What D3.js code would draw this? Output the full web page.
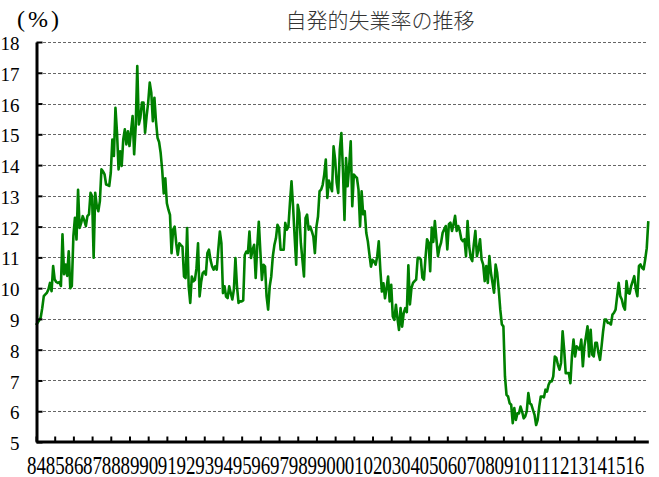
<!DOCTYPE html>
<html><head><meta charset="utf-8">
<script src="https://cdn.jsdelivr.net/npm/d3@7"></script>
<style>html,body{margin:0;padding:0;background:#fff;} svg{display:block;}</style>
</head><body>
<svg id="chart" width="659" height="477"></svg>
<script>
const chartTitle = "自発的失業率の推移";
const unitLabel = "(%)";
const yTicks = [5,6,7,8,9,10,11,12,13,14,15,16,17,18];
const xTickLabels = ["84","85","86","87","88","89","90","91","92","93","94","95","96","97","98","99","00","01","02","03","04","05","06","07","08","09","10","11","12","13","14","15","16"];

// monthly rates (%), Jan 1984 - Oct 2016
const r1984 = [8.8, 8.87, 8.95, 9.04, 9.35, 9.74, 9.8, 9.85, 9.96, 10.17, 9.9, 10.72];
const r1985 = [10.28, 10.2, 10.17, 10.2, 10.07, 11.75, 10.45, 10.77, 10.4, 11.2, 10.0, 10.07];
const r1986 = [11.7, 12.29, 11.58, 13.2, 11.96, 12.12, 12.34, 12.2, 12.02, 12.34, 12.4, 13.1];
const r1987 = [12.99, 10.99, 13.1, 12.67, 12.5, 12.83, 13.86, 13.8, 13.7, 13.37, 13.35, 13.32];
const r1988 = [13.75, 14.83, 14.3, 15.86, 15.05, 13.86, 14.45, 13.97, 14.83, 15.16, 14.67, 15.1];
const r1989 = [14.62, 15.1, 15.59, 14.35, 15.27, 17.22, 15.32, 15.54, 16.03, 16.03, 15.05, 15.59];
const r1990 = [16.03, 16.68, 16.35, 15.43, 16.19, 15.43, 14.89, 14.75, 14.4, 13.84, 13.08, 13.57];
const r1991 = [12.76, 12.55, 12.38, 11.14, 11.9, 12.0, 11.46, 11.08, 11.46, 11.4, 11.35, 10.38];
const r1992 = [10.33, 11.95, 10.06, 9.52, 10.38, 10.22, 10.27, 10.65, 11.46, 9.73, 10.2, 10.49];
const r1993 = [10.54, 10.44, 11.14, 11.25, 10.92, 10.71, 10.6, 10.71, 10.6, 11.25, 11.84, 11.46];
const r1994 = [9.84, 10.06, 9.73, 9.68, 10.06, 9.84, 9.63, 9.95, 10.98, 10.06, 9.52, 9.57];
const r1995 = [9.57, 9.6, 11.08, 11.19, 11.14, 11.84, 10.98, 11.25, 11.41, 10.33, 11.35, 12.16];
const r1996 = [11.19, 10.27, 10.76, 10.71, 9.73, 9.3, 10.06, 10.38, 11.03, 11.4, 11.62, 12.06];
const r1997 = [11.95, 11.25, 11.25, 11.25, 12.12, 11.9, 12.0, 12.77, 13.47, 12.66, 11.68, 10.76];
const r1998 = [12.71, 12.44, 11.46, 10.92, 10.38, 12.28, 12.39, 11.9, 12.0, 11.85, 11.68, 11.14];
const r1999 = [12.0, 12.33, 13.15, 13.2, 13.36, 13.69, 14.18, 12.93, 13.5, 13.31, 13.15, 14.61];
const r2000 = [14.18, 13.42, 13.09, 14.5, 15.04, 13.85, 12.22, 14.23, 13.31, 13.96, 14.77, 12.66];
const r2001 = [13.69, 13.63, 13.58, 13.2, 12.01, 13.15, 12.4, 12.5, 11.79, 11.52, 11.1, 10.7];
const r2002 = [10.92, 10.87, 10.76, 11.03, 11.52, 10.6, 9.89, 10.16, 9.67, 10.0, 10.38, 9.57];
const r2003 = [10.11, 9.08, 8.97, 9.46, 9.02, 8.64, 9.35, 8.75, 9.19, 9.35, 9.22, 10.74];
const r2004 = [9.47, 10.01, 10.17, 10.23, 10.28, 10.99, 10.99, 10.93, 10.34, 10.28, 10.99, 11.59];
const r2005 = [11.48, 10.55, 11.97, 11.5, 12.18, 11.59, 11.04, 11.32, 11.48, 11.8, 11.91, 12.02];
const r2006 = [11.26, 12.08, 12.13, 11.86, 12.08, 12.35, 11.86, 12.02, 11.86, 11.59, 11.53, 11.59];
const r2007 = [11.04, 12.18, 11.37, 10.99, 10.88, 11.42, 11.86, 11.04, 11.26, 11.59, 10.93, 10.77];
const r2008 = [10.23, 10.72, 10.17, 11.04, 10.5, 10.17, 9.85, 10.77, 10.5, 9.96, 9.3, 8.82];
const r2009 = [8.76, 7.13, 6.53, 6.48, 6.26, 6.21, 5.61, 6.1, 5.72, 5.93, 5.93, 6.15];
const r2010 = [5.99, 5.77, 5.83, 6.0, 6.59, 6.26, 6.21, 6.04, 5.88, 5.55, 5.72, 6.15];
const r2011 = [6.48, 6.48, 6.45, 6.7, 6.64, 6.86, 6.97, 6.97, 7.13, 7.78, 7.73, 7.51];
const r2012 = [7.35, 7.57, 8.6, 8.0, 7.24, 7.24, 7.24, 6.91, 7.8, 8.33, 7.78, 8.11];
const r2013 = [8.05, 8.0, 8.33, 7.46, 8.11, 8.43, 8.76, 7.78, 8.65, 7.84, 7.78, 8.22];
const r2014 = [8.22, 7.89, 7.67, 8.11, 8.6, 8.98, 8.98, 8.87, 8.87, 8.82, 9.14, 9.2];
const r2015 = [9.3, 9.74, 10.17, 9.74, 9.63, 9.41, 9.3, 10.23, 9.85, 9.82, 10.07, 10.23];
const r2016 = [10.39, 9.96, 9.74, 10.72, 10.77, 10.66, 10.61, 10.93, 11.3, 12.18];

const rates = [].concat(r1984, r1985, r1986, r1987, r1988, r1989, r1990, r1991, r1992,
  r1993, r1994, r1995, r1996, r1997, r1998, r1999, r2000, r2001, r2002, r2003, r2004,
  r2005, r2006, r2007, r2008, r2009, r2010, r2011, r2012, r2013, r2014, r2015, r2016);

const svg = d3.select("#chart");
const x = d3.scaleLinear().domain([0, rates.length - 1]).range([36, 648.3]);
const y = d3.scaleLinear().domain([5, 18]).range([442, 42]);

// gridlines
svg.append("g").selectAll("line")
  .data(yTicks.filter(v => v > 5))
  .join("line")
  .attr("x1", 43).attr("x2", 648)
  .attr("y1", d => Math.round(y(d)) + 0.5).attr("y2", d => Math.round(y(d)) + 0.5)
  .attr("stroke", "#666").attr("stroke-width", 1).attr("stroke-dasharray", "3,2");

// line
const line = d3.line().x((d, i) => x(i)).y(d => y(d));
svg.append("path").datum(rates)
  .attr("d", line)
  .attr("fill", "none").attr("stroke", "#008000")
  .attr("stroke-width", 2.6).attr("stroke-linejoin", "round");

// y axis
const yAxis = d3.axisLeft(y).tickValues(yTicks).tickSize(-6).tickSizeOuter(0).tickPadding(17);
const gy = svg.append("g").attr("transform", "translate(36.5,0)").call(yAxis);
gy.select(".domain").attr("stroke", "#000").attr("stroke-width", 3);
gy.selectAll(".tick line").attr("stroke", "#000").attr("stroke-width", 2);
gy.selectAll(".tick text").attr("font-family", "'Liberation Serif', serif")
  .attr("font-size", 19).attr("fill", "#000").attr("dy", "0.4em");

// x axis
const xAxis = d3.axisBottom(x)
  .tickValues(d3.range(0, xTickLabels.length * 12, 12))
  .tickFormat((d, i) => xTickLabels[i])
  .tickSize(-5).tickSizeOuter(0).tickPadding(14);
const gx = svg.append("g").attr("transform", "translate(0,441.5)").call(xAxis);
gx.select(".domain").attr("stroke", "#000").attr("stroke-width", 3);
gx.selectAll(".tick line").attr("stroke", "#000").attr("stroke-width", 2);
gx.selectAll(".tick text").attr("font-family", "'Liberation Serif', serif")
  .attr("font-size", 26).attr("fill", "#000")
  .attr("textLength", 19).attr("lengthAdjust", "spacingAndGlyphs");

// title & unit
svg.append("text").attr("x", 380).attr("y", 28).attr("text-anchor", "middle")
  .attr("font-family", "'Noto Sans CJK JP', sans-serif").attr("font-weight", 300)
  .attr("font-size", 21).attr("fill", "#333").text(chartTitle);
svg.append("text").attr("x", 17).attr("y", 27)
  .attr("font-family", "'Liberation Serif', serif").attr("font-size", 24)
  .attr("letter-spacing", 3).attr("fill", "#000").text(unitLabel);
</script>
</body></html>
